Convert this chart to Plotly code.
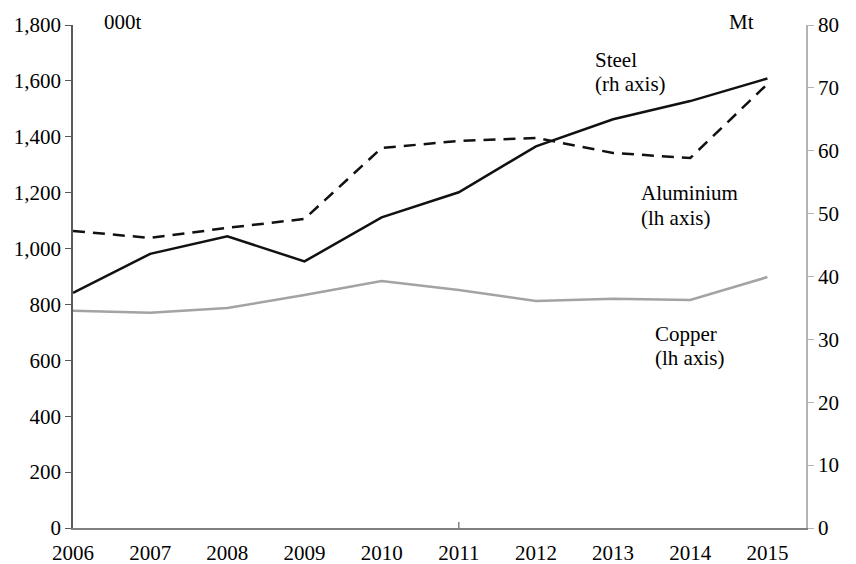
import plotly.graph_objects as go

years = [2006, 2007, 2008, 2009, 2010, 2011, 2012, 2013, 2014, 2015]
# rh axis, Mt
steel = [37.4, 43.6, 46.4, 42.4, 49.4, 53.4, 60.7, 65.0, 67.9, 71.5]
# lh axis, 000t
aluminium = [1063, 1038, 1074, 1106, 1360, 1385, 1396, 1342, 1324, 1589]
copper = [777, 770, 787, 834, 884, 852, 812, 820, 816, 898]

left_ticks = [0, 200, 400, 600, 800, 1000, 1200, 1400, 1600, 1800]
right_ticks = [0, 10, 20, 30, 40, 50, 60, 70, 80]

font_family = "Liberation Serif, Times New Roman, serif"

fig = go.Figure()
fig.add_trace(go.Scatter(x=years, y=copper, mode="lines", name="Copper",
                         line=dict(color="#a3a3a3", width=2.5)))
fig.add_trace(go.Scatter(x=years, y=aluminium, mode="lines", name="Aluminium",
                         line=dict(color="#111111", width=2.5, dash="12px,8px")))
fig.add_trace(go.Scatter(x=years, y=steel, mode="lines", name="Steel", yaxis="y2",
                         line=dict(color="#111111", width=2.5)))

fig.update_layout(
    width=856, height=564,
    margin=dict(l=73, r=50, t=25, b=36),
    paper_bgcolor="white", plot_bgcolor="white",
    showlegend=False,
    font=dict(family=font_family, size=21, color="black"),
    xaxis=dict(range=[2006, 2015.5], tickvals=years, ticktext=[str(y) for y in years],
               showgrid=False, zeroline=False, showline=True, linecolor="#808080",
               linewidth=1.5, ticks="", ticklabelstandoff=5, automargin=False),
    yaxis=dict(range=[0, 1800], tickvals=left_ticks, tickformat=",d",
               showgrid=False, zeroline=False, showline=True, linecolor="#595959",
               linewidth=1.5, ticks="outside", ticklen=6, tickcolor="#595959",
               automargin=False),
    yaxis2=dict(range=[0, 80], tickvals=right_ticks, overlaying="y", side="right",
                showgrid=False, zeroline=False, showline=True, linecolor="#b3b3b3",
                linewidth=1.5, ticks="outside", ticklen=6, tickcolor="#b3b3b3",
                automargin=False),
)

# the single tick mark the source draws on the x axis
fig.add_shape(type="line", xref="x", yref="paper", x0=2011, x1=2011, y0=0, y1=0.012,
              line=dict(color="#808080", width=1.5))

labels = [
    ("000t", 2006.38, 1.006, "left"),
    ("Mt", 2014.85, 1.006, "right"),
    ("Steel", 2012.74, 0.930, "left"),
    ("(rh axis)", 2012.74, 0.883, "left"),
    ("Aluminium", 2013.34, 0.666, "left"),
    ("(lh axis)", 2013.34, 0.616, "left"),
    ("Copper", 2013.52, 0.386, "left"),
    ("(lh axis)", 2013.52, 0.338, "left"),
]
for text, x, y, anchor in labels:
    fig.add_annotation(text=text, x=x, y=y, xref="x", yref="paper",
                       xanchor=anchor, yanchor="middle",
                       showarrow=False, font=dict(size=21, family=font_family))

# page body has a default 8px margin; drop it so the figure fills the window
fig.write_html("out.html", config={"displayModeBar": False},
               post_script="document.body.style.margin = '0';")
